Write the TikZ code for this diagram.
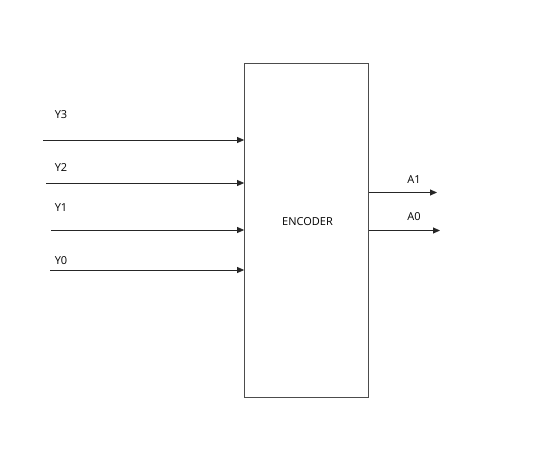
\documentclass[tikz,border=0pt]{standalone}
\usepackage{fontspec}
\setmainfont{Open Sans}
\usetikzlibrary{arrows.meta}
\begin{document}
\begin{tikzpicture}[x=1pt,y=-1pt,
  wire/.style={draw=black!85,line width=0.8pt,-{Triangle[length=7pt,width=6pt]}},
  lbl/.style={font=\fontsize{11}{13}\selectfont,inner sep=0pt}]
\useasboundingbox[fill=white] (0,0) rectangle (537,473);
\node[draw=black!70,line width=0.8pt,minimum width=124pt,minimum height=334pt,inner sep=0pt] (enc) at (306.5,230) {};
\node[lbl] (enct) at (307.5,221.7) {ENCODER};
\coordinate (s3) at (43,140);
\coordinate (s2) at (46,183);
\coordinate (s1) at (51,230);
\coordinate (s0) at (50,270);
\draw[wire] (s3) -- (s3 -| enc.west);
\draw[wire] (s2) -- (s2 -| enc.west);
\draw[wire] (s1) -- (s1 -| enc.west);
\draw[wire] (s0) -- (s0 -| enc.west);
\node[lbl] (y3) at (61,115) {Y3};
\node[lbl] (y2) at (61,168) {Y2};
\node[lbl] (y1) at (61,208) {Y1};
\node[lbl] (y0) at (61,261) {Y0};
\coordinate (a1s) at (enc.east |- 0,192.5);
\coordinate (a0s) at (enc.east |- 0,230.5);
\coordinate (a1e) at (437,192.5);
\coordinate (a0e) at (440,230.5);
\draw[wire] (a1s) -- (a1e);
\draw[wire] (a0s) -- (a0e);
\node[lbl] (a1) at (414,180) {A1};
\node[lbl] (a0) at (414,217) {A0};
\end{tikzpicture}
\end{document}
